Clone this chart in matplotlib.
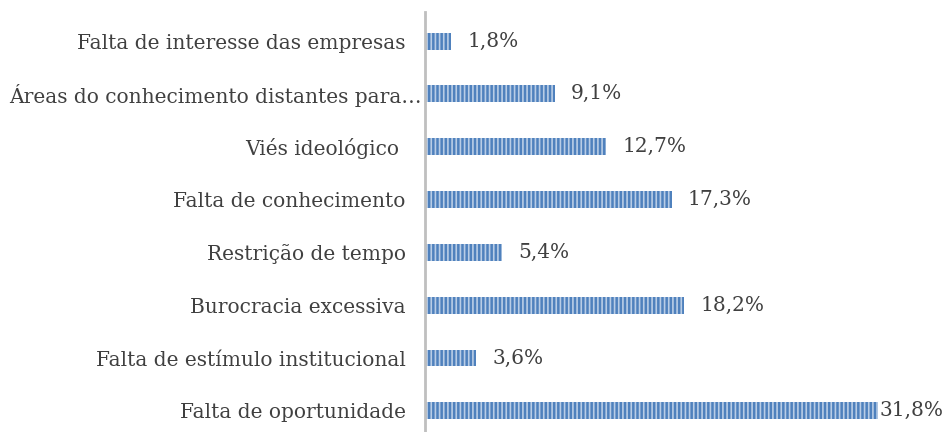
import matplotlib.pyplot as plt
from matplotlib.transforms import ScaledTranslation

# dados (de baixo para cima)
categorias = ['Falta de oportunidade', 'Falta de estímulo institucional',
              'Burocracia excessiva', 'Restrição de tempo',
              'Falta de conhecimento', 'Viés ideológico ',
              'Áreas do conhecimento distantes para…',
              'Falta de interesse das empresas']
valores = [31.8, 3.6, 18.2, 5.4, 17.3, 12.7, 9.1, 1.8]
rotulos = ['31,8%', '3,6%', '18,2%', '5,4%', '17,3%', '12,7%', '9,1%', '1,8%']

plt.rcParams['font.family'] = ['DejaVu Serif']
plt.rcParams['hatch.linewidth'] = 1.2

fig = plt.figure(figsize=(9.47, 4.32), dpi=100)
ax = fig.add_axes([425 / 947, 0.0, 522 / 947, 420 / 432])

pos = range(len(valores))
ax.barh(pos, valores, height=0.32, color='#4f81bd', edgecolor='#b9cde6',
        linewidth=0, hatch='||||')

for i, (v, r) in enumerate(zip(valores, rotulos)):
    off = 0.12 if v > 30 else 1.15
    ax.text(v + off, i, r, va='center', ha='left', fontsize=14.5, color='#404040')

ax.set_xlim(0, 522 / 14.25)
ax.set_ylim(-0.4, 7.55)
ax.set_yticks(list(pos))
ax.set_yticklabels(categorias, fontsize=14.5, color='#404040')
ax.tick_params(axis='y', length=0, pad=14)
ax.set_xticks([])
for s in ['top', 'right', 'bottom']:
    ax.spines[s].set_visible(False)
ax.spines['left'].set_color('#bfbfbf')
ax.spines['left'].set_linewidth(2)

# o rótulo truncado vai até a linha do eixo
lab = ax.get_yticklabels()[6]
lab.set_transform(lab.get_transform() + ScaledTranslation(16 / 100, 0, fig.dpi_scale_trans))

fig.savefig('out.png', dpi=100)
